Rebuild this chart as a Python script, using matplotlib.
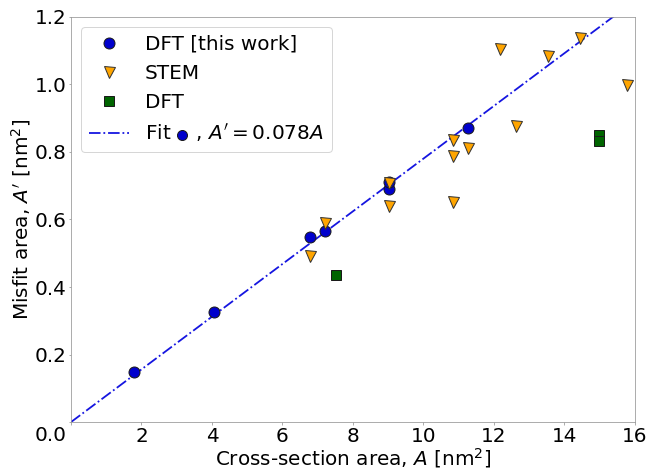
import numpy as np
import matplotlib
matplotlib.use("Agg")
import matplotlib.pyplot as plt
from matplotlib.lines import Line2D
from matplotlib.transforms import IdentityTransform, ScaledTranslation

# DFT [this work]
this_x = [1.80, 4.06, 6.77, 7.22, 9.02, 9.02, 11.28]
this_y = [0.149, 0.325, 0.549, 0.567, 0.690, 0.710, 0.872]

# STEM measurements
stem_x = [6.77, 7.22, 9.02, 9.02, 10.83, 10.83, 10.83, 11.28, 12.18, 12.63, 13.53, 14.44, 15.79]
stem_y = [0.493, 0.589, 0.709, 0.640, 0.836, 0.788, 0.653, 0.811, 1.104, 0.877, 1.083, 1.137, 0.997]

# other DFT
dft_x = [7.51, 14.99, 14.99]
dft_y = [0.436, 0.850, 0.832]

# linear fit A' = k A
fit_slope = 0.078
fit_range = [0, 16]

plt.rcParams['font.size'] = 20

fig = plt.figure(figsize=(651 / 72, 469 / 72), dpi=72)
ax = fig.add_axes([0.109, 0.100, 0.866, 0.864])

fx = np.array(fit_range, dtype=float)
fit_line, = ax.plot(fx, fit_slope * fx, '-.', color='#1515e0', lw=1.8, zorder=1)
h1, = ax.plot(this_x, this_y, 'o', ms=11, mfc='#0000cc', mec='0.1', mew=1.0, zorder=3)
h2, = ax.plot(stem_x, stem_y, 'v', ms=11, mfc='orange', mec='0.2', mew=1.0, zorder=4)
h3, = ax.plot(dft_x, dft_y, 's', ms=10, mfc='darkgreen', mec='0.1', mew=1.0, zorder=4)

ax.set_xlim(0, 16)
ax.set_ylim(0, 1.2)
ax.set_xticks(np.arange(0, 17, 2))
ax.set_xticklabels([''] + [str(v) for v in range(2, 17, 2)])
ax.set_yticks(np.arange(0, 1.21, 0.2))
ax.set_xlabel("Cross-section area, $A$ [nm$^2$]", labelpad=1)
ax.set_ylabel("Misfit area, $A'$ [nm$^2$]", labelpad=1)
for s in ax.spines.values():
    s.set_color('0.6')
ax.tick_params(color='0.6', length=2.5, pad=2)

# the 0.0 label sits lower in the original
lab0 = ax.get_yticklabels()[0]
lab0.set_transform(lab0.get_transform() + ScaledTranslation(0, -11 / 72, fig.dpi_scale_trans))

leg = ax.legend([h1, h2, h3, fit_line],
                ["DFT [this work]", "STEM", "DFT", "Fit    , $A'=0.078A$"],
                loc='upper left', handletextpad=0.8)

# blue dot inside the fit label
fig.canvas.draw()
r = fig.canvas.get_renderer()
txt = leg.get_texts()[3]
bb = txt.get_window_extent(r)
tmp = fig.text(0, 0, "Fit", fontsize=20)
w = tmp.get_window_extent(r).width
tmp.remove()
fig.add_artist(Line2D([bb.x0 + w + 14], [bb.y0 + bb.height * 0.42], marker='o', ms=10,
                      mfc='#0000cc', mec='0.1', mew=1.0, ls='none',
                      transform=IdentityTransform()))

fig.savefig("out.png", dpi=72)
